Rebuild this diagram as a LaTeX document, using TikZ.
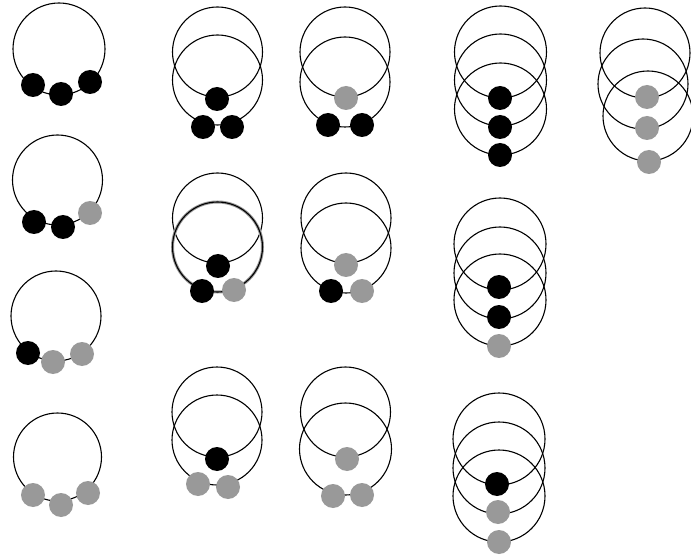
\documentclass[tikz,border=0pt]{standalone}
\usepackage{tikz}
\definecolor{bead_grey}{RGB}{153,153,153}
\tikzset{
  ring/.style = {draw=black, line width=1.1pt},% anneau
  halo_ring/.style = {draw=black!40, line width=3pt},% anneau flou
  bead/.style = {circle, inner sep=0pt, minimum size=24pt},
  black_bead/.style = {bead, fill=black},% perle noire
  grey_bead/.style = {bead, fill=bead_grey}% perle grise
}
\begin{document}
\begin{tikzpicture}[x=1pt, y=-1pt]
  \useasboundingbox (0,0) rectangle (691,556);
  % colonne 1
  \draw[ring] (59,49) circle[radius=46pt];
  \node[black_bead] (a1) at (33,85) {};
  \node[black_bead] (a2) at (61,94) {};
  \node[black_bead] (a3) at (90,82) {};
  \draw[ring] (57.5,180) circle[radius=45pt];
  \node[black_bead] (b1) at (34,222) {};
  \node[black_bead] (b2) at (63,227) {};
  \node[grey_bead] (b3) at (90,213) {};
  \draw[ring] (56,316) circle[radius=45pt];
  \node[black_bead] (c1) at (28,353) {};
  \node[grey_bead] (c2) at (53,362) {};
  \node[grey_bead] (c3) at (82,354) {};
  \draw[ring] (57.5,457) circle[radius=44pt];
  \node[grey_bead] (d1) at (33,495) {};
  \node[grey_bead] (d2) at (61,505) {};
  \node[grey_bead] (d3) at (88,493) {};
  % colonne 2
  \draw[ring] (217.5,52) circle[radius=45pt];
  \draw[ring] (217.5,80) circle[radius=45pt];
  \node[black_bead] (e1) at (217,99) {};
  \node[black_bead] (e2) at (203,127) {};
  \node[black_bead] (e3) at (232,127) {};
  \draw[ring] (217.5,218) circle[radius=45pt];
  \draw[halo_ring] (217.5,247) circle[radius=45pt];
  \draw[ring] (217.5,247) circle[radius=45pt];
  \node[black_bead] (f1) at (218,266) {};
  \node[black_bead] (f2) at (202,291) {};
  \node[grey_bead] (f3) at (234,290) {};
  \draw[ring] (217,412) circle[radius=45pt];
  \draw[ring] (217,440) circle[radius=45pt];
  \node[black_bead] (g1) at (217,459) {};
  \node[grey_bead] (g2) at (198,484) {};
  \node[grey_bead] (g3) at (228,487) {};
  % colonne 3
  \draw[ring] (345,52) circle[radius=45pt];
  \draw[ring] (345,82) circle[radius=45pt];
  \node[grey_bead] (h1) at (346,98) {};
  \node[black_bead] (h2) at (328,125) {};
  \node[black_bead] (h3) at (362,125) {};
  \draw[ring] (346,218) circle[radius=45pt];
  \draw[ring] (346,248) circle[radius=45pt];
  \node[grey_bead] (i1) at (346,265) {};
  \node[black_bead] (i2) at (331,291) {};
  \node[grey_bead] (i3) at (362,291) {};
  \draw[ring] (345.5,412) circle[radius=45pt];
  \draw[ring] (345.5,449) circle[radius=46pt];
  \node[grey_bead] (j1) at (347,459) {};
  \node[grey_bead] (j2) at (333,496) {};
  \node[grey_bead] (j3) at (362,495) {};
  % colonne 4
  \foreach \cy in {52,80,109}
    \draw[ring] (500.5,\cy) circle[radius=46pt];
  \node[black_bead] (k1) at (500,98) {};
  \node[black_bead] (k2) at (500,127) {};
  \node[black_bead] (k3) at (500,155) {};
  \foreach \cy in {244,273,300}
    \draw[ring] (500,\cy) circle[radius=46pt];
  \node[black_bead] (l1) at (499,287) {};
  \node[black_bead] (l2) at (499,317) {};
  \node[grey_bead] (l3) at (499,346) {};
  \foreach \cy in {439,468,496}
    \draw[ring] (499,\cy) circle[radius=46pt];
  \node[black_bead] (m1) at (497,484) {};
  \node[grey_bead] (m2) at (498,512) {};
  \node[grey_bead] (m3) at (499,542) {};
  % colonne 5
  \draw[ring] (645,53) circle[radius=45pt];
  \draw[ring] (643,84) circle[radius=45pt];
  \draw[ring] (648,116) circle[radius=45pt];
  \node[grey_bead] (n1) at (647,97) {};
  \node[grey_bead] (n2) at (647,128) {};
  \node[grey_bead] (n3) at (649,162) {};
\end{tikzpicture}
\end{document}
